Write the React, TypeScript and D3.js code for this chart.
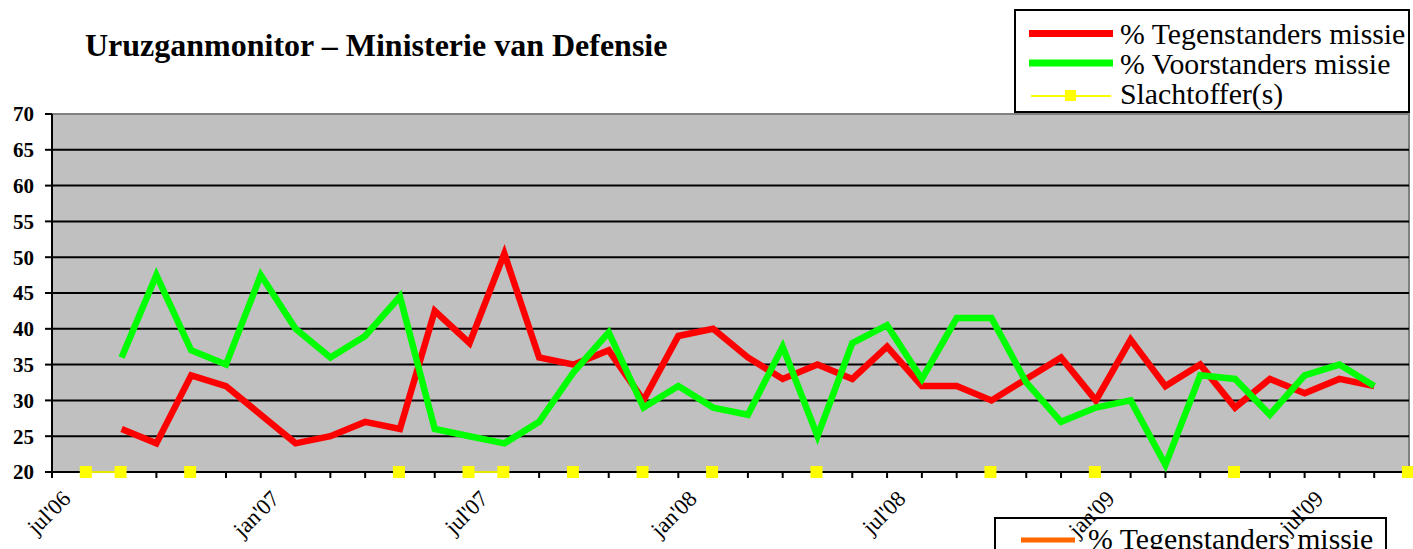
import React from 'react';
import * as d3 from 'd3';

const months: string[] = [
  "jul'06", "aug'06", "sep'06", "okt'06", "nov'06", "dec'06",
  "jan'07", "feb'07", "mrt'07", "apr'07", "mei'07", "jun'07",
  "jul'07", "aug'07", "sep'07", "okt'07", "nov'07", "dec'07",
  "jan'08", "feb'08", "mrt'08", "apr'08", "mei'08", "jun'08",
  "jul'08", "aug'08", "sep'08", "okt'08", "nov'08", "dec'08",
  "jan'09", "feb'09", "mrt'09", "apr'09", "mei'09", "jun'09",
  "jul'09", "aug'09", "sep'09", "okt'09",
];

const tickLabels: string[] = ["jul'06", "jan'07", "jul'07", "jan'08", "jul'08", "jan'09", "jul'09"];

const yTicks: number[] = [20, 25, 30, 35, 40, 45, 50, 55, 60, 65, 70];

const tegenstanders: (number | null)[] = [
  null, null, 26, 24, 33.5, 32,
  28, 24, 25, 27, 26, 42.5,
  38, 50.5, 36, 35, 37, 30,
  39, 40, 36, 33, 35, 33,
  37.5, 32, 32, 30, 33, 36,
  30, 38.5, 32, 35, 29, 33,
  31, 33, 32, null,
];

const voorstanders: (number | null)[] = [
  null, null, 36, 47.5, 37, 35,
  47.5, 40, 36, 39, 44.5, 26,
  25, 24, 27, 34, 39.5, 29,
  32, 29, 28, 37.5, 25, 38,
  40.5, 33, 41.5, 41.5, 32.5, 27,
  29, 30, 21, 33.5, 33, 28,
  33.5, 35, 32, null,
];

const slachtoffers: (number | null)[] = [
  null, 20, 20, null, 20, null,
  null, null, null, null, 20, null,
  20, 20, null, 20, null, 20,
  null, 20, null, null, 20, null,
  null, null, null, 20, null, null,
  20, null, null, null, 20, null,
  null, null, null, 20,
];

const legendLabels: string[] = ['% Tegenstanders missie', '% Voorstanders missie', 'Slachtoffer(s)'];
const title = 'Uruzganmonitor – Ministerie van Defensie';

const W = 1413;
const H = 549;
const serif = "'Liberation Serif', 'Times New Roman', 'DejaVu Serif', serif";

export default function App() {
  const x = d3.scalePoint<string>().domain(months).range([52, 1409]).padding(0);
  const y = d3.scaleLinear().domain([20, 70]).range([472, 114]);

  const mkLine = (vals: (number | null)[]) =>
    d3
      .line<number | null>()
      .defined((d) => d != null)
      .x((_, i) => x(months[i]) as number)
      .y((d) => y(d as number))(vals) || '';

  const x0 = x(months[0]) as number;
  const x1 = x(months[months.length - 1]) as number;
  const tf = (size: number, bold = false): React.CSSProperties => ({
    fontFamily: serif,
    fontSize: size + 'px',
    fontWeight: bold ? 'bold' : 'normal',
  });

  return (
    <svg
      width={W}
      height={H}
      style={{ position: 'absolute', left: 0, top: 0, display: 'block', background: '#fff' }}
    >
      {/* title */}
      <text x={85} y={56} style={tf(32, true)} fill="#000">
        {title}
      </text>

      {/* plot area */}
      <rect x={x0} y={y(70)} width={x1 - x0} height={y(20) - y(70)} fill="#c0c0c0" stroke="#808080" strokeWidth={2} />

      {/* gridlines */}
      {yTicks
        .filter((t) => t > 20 && t < 70)
        .map((t) => (
          <line key={'g' + t} x1={x0} x2={x1} y1={y(t)} y2={y(t)} stroke="#000" strokeWidth={2} />
        ))}

      {/* y axis */}
      <line x1={x0} x2={x0} y1={y(70)} y2={y(20) + 1} stroke="#000" strokeWidth={2} />
      {yTicks.map((t) => (
        <g key={'yt' + t}>
          <line x1={x0 - 7} x2={x0} y1={y(t)} y2={y(t)} stroke="#000" strokeWidth={2} />
          <text x={34} y={y(t)} dy="0.35em" textAnchor="end" style={tf(21, true)} fill="#000">
            {t}
          </text>
        </g>
      ))}

      {/* x axis */}
      <line x1={x0 - 1} x2={x1} y1={y(20)} y2={y(20)} stroke="#000" strokeWidth={2} />
      {months.map((m) => (
        <line key={'xt' + m} x1={x(m) as number} x2={x(m) as number} y1={y(20)} y2={y(20) + 6} stroke="#000" strokeWidth={2} />
      ))}

      {/* series */}
      <path d={mkLine(tegenstanders)} fill="none" stroke="#ff0000" strokeWidth={6.5} strokeLinejoin="miter" />
      <path d={mkLine(voorstanders)} fill="none" stroke="#00ff00" strokeWidth={6.5} strokeLinejoin="miter" />
      <path d={mkLine(slachtoffers)} fill="none" stroke="#e6e600" strokeWidth={2} />
      {slachtoffers.map((d, i) =>
        d == null ? null : (
          <rect
            key={'s' + i}
            x={(x(months[i]) as number) - 7}
            y={y(d) - 6}
            width={12}
            height={12}
            fill="#ffff00"
          />
        )
      )}

      {/* top legend */}
      <rect x={1015} y={10} width={394} height={102} fill="#fff" stroke="#000" strokeWidth={2} />
      <line x1={1029} x2={1113} y1={33.5} y2={33.5} stroke="#ff0000" strokeWidth={7} />
      <line x1={1029} x2={1113} y1={63} y2={63} stroke="#00ff00" strokeWidth={7} />
      <line x1={1031} x2={1111} y1={96} y2={96} stroke="#ffff00" strokeWidth={2} />
      <rect x={1065} y={90} width={11} height={11} fill="#ffff00" />
      {legendLabels.map((l, i) => (
        <text key={'l' + i} x={1120} y={[44, 74, 104][i]} style={tf(29.8)} fill="#000">
          {l}
        </text>
      ))}

      {/* second legend, cut off at the bottom */}
      <rect x={995} y={518} width={391} height={60} fill="#fff" stroke="#000" strokeWidth={2} />
      <line x1={1021} x2={1075} y1={540} y2={540} stroke="#ff6600" strokeWidth={5} />
      <text x={1088} y={549} style={tf(29.8)} fill="#000">
        {legendLabels[0]}
      </text>

      {/* x tick labels */}
      {tickLabels.map((l) => {
        const px = (x(l) as number) + 20;
        const py = 500;
        return (
          <text
            key={'xl' + l}
            transform={`translate(${px},${py}) rotate(-45)`}
            textAnchor="end"
            style={tf(22.5)}
            fill="#000"
          >
            {l}
          </text>
        );
      })}
    </svg>
  );
}
